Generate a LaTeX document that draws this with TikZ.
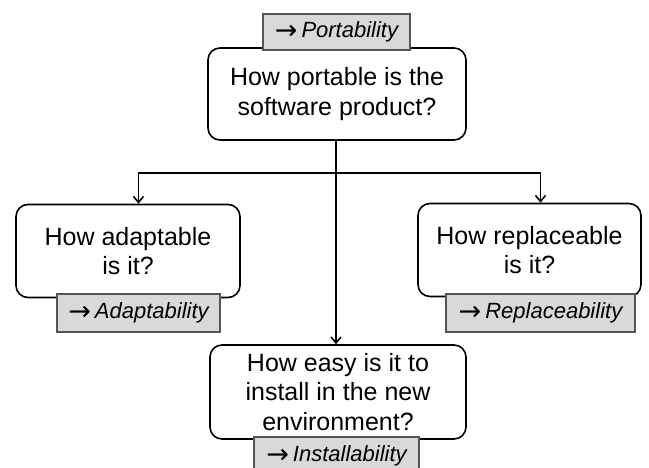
\documentclass[tikz,border=0pt]{standalone}
\usepackage{fontspec}
\setmainfont{Liberation Sans}
\newfontfamily\arrowfont{DejaVu Sans}
\usetikzlibrary{arrows.meta}
\definecolor{tagfill}{RGB}{217,217,217}
\definecolor{tagline}{RGB}{85,85,85}
\newcommand{\tagarrow}{\raisebox{-1.5pt}{\fontsize{27}{27}\selectfont\upshape\arrowfont →}\hspace{4pt}}
\begin{document}
\begin{tikzpicture}[x=1pt,y=-1pt,
  question/.style={draw=black, line width=1.6pt, rounded corners=12pt, fill=white,
    align=center, inner sep=0pt, font=\fontsize{25}{29.5}\selectfont},
  tag/.style={draw=tagline, line width=1.1pt, fill=tagfill, inner sep=0pt,
    font=\fontsize{22}{24}\selectfont\itshape},
  link/.style={line width=1.6pt, -{Straight Barb[length=6pt,width=10pt,line width=1.6pt]}}]
  \useasboundingbox (0,0) rectangle (649,468);
  \begin{scope}
    \clip (0,0) rectangle (649,468);
    % question boxes
    \node[question, minimum width=258pt, minimum height=92pt] (top) at (337,94)
      {How portable is the\\software product?};
    \node[question, minimum width=224pt, minimum height=93pt] (lbox) at (128,251)
      {How adaptable\\is it?};
    \node[question, minimum width=223pt, minimum height=93pt] (rbox) at (529.5,250)
      {How replaceable\\is it?};
    \node[question, minimum width=256pt, minimum height=94pt] (bbox) at (338,392)
      {How easy is it to\\install in the new\\environment?};
    % characteristic tags
    \node[tag, minimum width=147pt, minimum height=36pt] (ttag) at (336.5,32) {\tagarrow Portability};
    \node[tag, minimum width=163pt, minimum height=38pt] (ltag) at (138.5,313) {\tagarrow Adaptability};
    \node[tag, minimum width=189pt, minimum height=38pt] (rtag) at (540.5,313) {\tagarrow Replaceability};
    \node[tag, minimum width=165pt, minimum height=38pt] (btag) at (336.5,456) {\tagarrow Installability};
    % connectors
    \coordinate (fork) at (336,173);
    \draw[link] (top.south -| fork) -- (bbox.north -| fork);
    \draw[link] (fork) -| (ltag |- lbox.north);
    \draw[link] (fork) -| (rtag |- rbox.north);
  \end{scope}
\end{tikzpicture}
\end{document}
